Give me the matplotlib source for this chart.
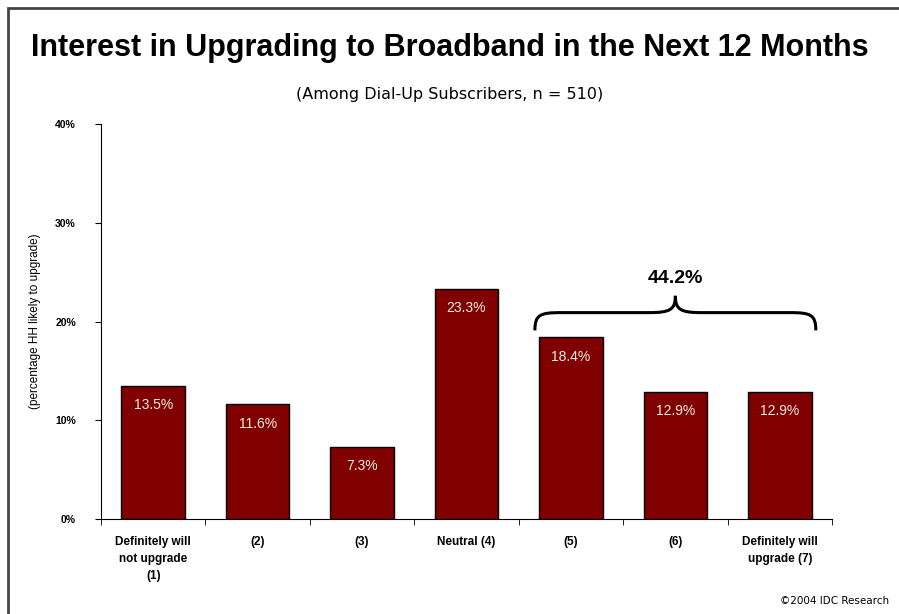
import matplotlib
matplotlib.use("Agg")
import matplotlib.pyplot as plt
from matplotlib.path import Path
from matplotlib.patches import PathPatch, Rectangle

categories = ["Definitely will\nnot upgrade\n(1)", "(2)", "(3)", "Neutral (4)", "(5)", "(6)",
              "Definitely will\nupgrade (7)"]
values = [13.5, 11.6, 7.3, 23.3, 18.4, 12.9, 12.9]
yticks = [0, 10, 20, 30, 40]
ytick_labels = ["0%", "10%", "20%", "30%", "40%"]
group_idx = [4, 5, 6]

title = "Interest in Upgrading to Broadband in the Next 12 Months"
subtitle = "(Among Dial-Up Subscribers, n = 510)"
ylabel = "(percentage HH likely to upgrade)"
credit = "©2004 IDC Research"

plt.rcParams['font.family'] = ['Liberation Sans', 'DejaVu Sans']

fig = plt.figure(figsize=(8.99, 6.14), dpi=100)
ax = fig.add_axes([101/899, 1-519/614, (832-101)/899, (519-124)/614])

x = list(range(len(categories)))
bw = 0.61
ax.bar(x, values, width=bw, color="#800000", edgecolor="black", linewidth=1)
for xi, v in zip(x, values):
    ax.annotate(f"{v:.1f}%", (xi, v), xytext=(0, -14), textcoords="offset points",
                ha="center", va="center", color="#f4ece4", fontsize=10)

ax.set_xlim(-0.5, len(categories) - 0.5)
ax.set_ylim(0, 40)
ax.set_yticks(yticks)
ax.set_yticklabels(ytick_labels, fontsize=7.5, fontweight="bold")
ax.set_xticks(x)
ax.set_xticklabels(categories, fontsize=8.5, fontweight="bold", linespacing=1.6)
ax.set_xticks([i - 0.5 for i in range(len(categories) + 1)], minor=True)
ax.tick_params(axis="x", which="major", length=0, pad=12)
ax.tick_params(axis="x", which="minor", length=4, direction="out")
ax.tick_params(axis="y", length=4, direction="out", pad=14)
for s in ["top", "right"]:
    ax.spines[s].set_visible(False)
ax.set_ylabel(ylabel, fontsize=8.5, labelpad=10)

# curly brace over group
x0 = group_idx[0] - bw/2 - 0.04
x1 = group_idx[-1] + bw/2 + 0.04
xm = (x0 + x1) / 2
ytop = max(values[i] for i in group_idx)
yb = ytop + 0.7
yf = ytop + 2.5
yp = ytop + 4.2
r = 0.25
verts = [(x0, yb), (x0, yf - 0.2), (x0 + 0.05, yf), (x0 + r, yf),
         (xm - r, yf), (xm - 0.05, yf), (xm, yf + 0.3), (xm, yp),
         (xm, yf + 0.3), (xm + 0.05, yf), (xm + r, yf),
         (x1 - r, yf), (x1 - 0.05, yf), (x1, yf - 0.2), (x1, yb)]
codes = [Path.MOVETO, Path.CURVE4, Path.CURVE4, Path.CURVE4,
         Path.LINETO, Path.CURVE4, Path.CURVE4, Path.CURVE4,
         Path.CURVE4, Path.CURVE4, Path.CURVE4,
         Path.LINETO, Path.CURVE4, Path.CURVE4, Path.CURVE4]
ax.add_patch(PathPatch(Path(verts, codes), facecolor="none", edgecolor="black", lw=2.2,
                       clip_on=False))
total = sum(values[i] for i in group_idx)
ax.text(xm, yp + 1.8, f"{total:.1f}%", ha="center", va="center", fontsize=14,
        fontweight="bold")

fig.text(0.5, 1-48/614, title, ha="center", va="center", fontsize=22, fontweight="bold")
fig.text(0.5, 1-95/614, subtitle, ha="center", va="center", fontsize=11.5,
         family="DejaVu Sans")
fig.text(889/899, 1-601/614, credit, ha="right", va="center", fontsize=7.5,
         family="DejaVu Sans")

# frame
fig.add_artist(Rectangle((8/899, -0.1), 1.2, 1 - 8/614 + 0.1, transform=fig.transFigure,
                         fill=False, edgecolor="#444444", lw=2))

fig.savefig("out.png", dpi=100)
